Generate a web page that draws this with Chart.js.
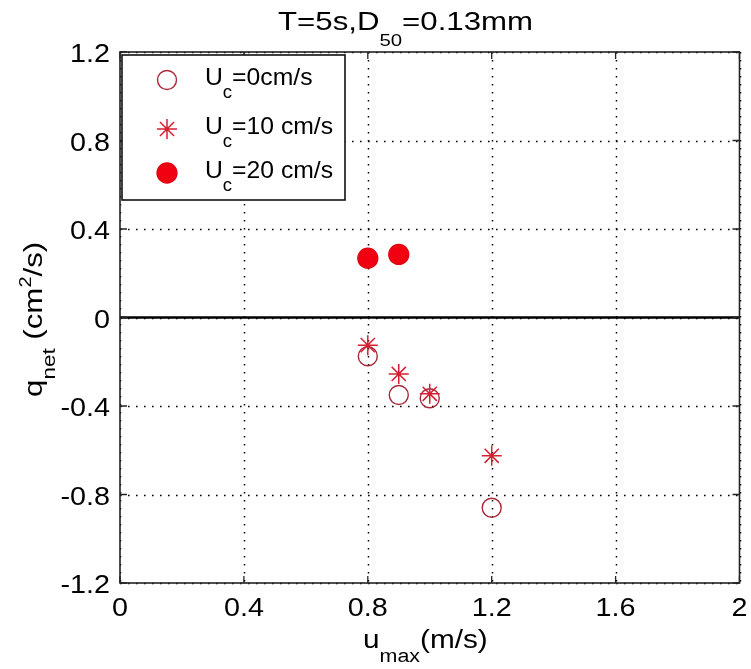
<!DOCTYPE html>
<html>
<head>
<meta charset="utf-8">
<script src="https://cdn.jsdelivr.net/npm/chart.js@4/dist/chart.umd.min.js"></script>
<style>
  html, body { margin: 0; padding: 0; background: #fff; }
  canvas { display: block; }
</style>
</head>
<body>
<canvas id="c" width="751" height="669"></canvas>
<script>
// data
const uMax0 = [0.8, 0.9, 1.0, 1.2];
const qNet0 = [-0.175, -0.35, -0.365, -0.86];
const uMax10 = [0.8, 0.9, 1.0, 1.2];
const qNet10 = [-0.125, -0.255, -0.345, -0.625];
const uMax20 = [0.8, 0.9];
const qNet20 = [0.268, 0.285];

const xTicks = [0, 0.4, 0.8, 1.2, 1.6, 2];
const xTickLabels = ["0", "0.4", "0.8", "1.2", "1.6", "2"];
const yTicks = [-1.2, -0.8, -0.4, 0, 0.4, 0.8, 1.2];
const yTickLabels = ["-1.2", "-0.8", "-0.4", "0", "0.4", "0.8", "1.2"];

// legend: U + subscript c + rest
const legendRest = ["=0cm/s", "=10 cm/s", "=20 cm/s"];

const FONT = '"Liberation Sans", Arial, sans-serif';

// draws a run of text pieces (for sub/superscripts), stretched by sx
function richText(ctx, runs, x, y, align, sx, rot) {
  let total = 0;
  const widths = runs.map(r => {
    ctx.font = r.size + "px " + FONT;
    const w = ctx.measureText(r.t).width;
    total += w;
    return w;
  });
  ctx.save();
  ctx.translate(x, y);
  if (rot) ctx.rotate(rot);
  ctx.scale(sx, 1);
  ctx.fillStyle = "#000";
  ctx.textBaseline = "alphabetic";
  ctx.textAlign = "left";
  let cx = align === "center" ? -total / 2 : align === "right" ? -total : 0;
  runs.forEach((r, i) => {
    ctx.font = r.size + "px " + FONT;
    ctx.fillText(r.t, cx, r.dy || 0);
    cx += widths[i];
  });
  ctx.restore();
}

const styles = [
  { pointStyle: "circle", fill: "rgba(0,0,0,0)", stroke: "#a82838", r: 9.5, w: 1.4 },
  { pointStyle: "star", fill: "#d42030", stroke: "#d42030", r: 10, w: 1.5 },
  { pointStyle: "circle", fill: "#f00010", stroke: "#e00010", r: 10, w: 1.3 }
];

const framePlugin = {
  id: "frame",
  beforeDatasetsDraw(chart) {
    const { ctx, chartArea: a, scales: { x, y } } = chart;
    ctx.save();
    // dotted grid
    ctx.strokeStyle = "#000";
    ctx.lineWidth = 1.5;
    ctx.setLineDash([1.6, 6.4]);
    xTicks.forEach(v => {
      const px = Math.round(x.getPixelForValue(v)) + 0.5;
      ctx.beginPath(); ctx.moveTo(px, a.top); ctx.lineTo(px, a.bottom); ctx.stroke();
    });
    yTicks.forEach(v => {
      const py = Math.round(y.getPixelForValue(v)) + 0.5;
      ctx.beginPath(); ctx.moveTo(a.left, py); ctx.lineTo(a.right, py); ctx.stroke();
    });
    ctx.setLineDash([]);
    // zero line
    const zy = y.getPixelForValue(0);
    ctx.lineWidth = 2.5;
    ctx.strokeStyle = "#000";
    ctx.beginPath(); ctx.moveTo(a.left, zy); ctx.lineTo(a.right, zy); ctx.stroke();
    // box
    ctx.lineWidth = 1.6;
    ctx.strokeStyle = "#222";
    ctx.strokeRect(a.left, a.top, a.right - a.left, a.bottom - a.top);
    // inward ticks
    const tl = 7;
    ctx.lineWidth = 1.3;
    xTicks.forEach(v => {
      const px = x.getPixelForValue(v);
      ctx.beginPath();
      ctx.moveTo(px, a.bottom); ctx.lineTo(px, a.bottom - tl);
      ctx.moveTo(px, a.top); ctx.lineTo(px, a.top + tl);
      ctx.stroke();
    });
    yTicks.forEach(v => {
      const py = y.getPixelForValue(v);
      ctx.beginPath();
      ctx.moveTo(a.left, py); ctx.lineTo(a.left + tl, py);
      ctx.moveTo(a.right, py); ctx.lineTo(a.right - tl, py);
      ctx.stroke();
    });
    ctx.restore();
  },
  afterDatasetsDraw(chart) {
    const { ctx, chartArea: a, scales: { x, y } } = chart;
    // tick labels
    xTicks.forEach((v, i) => {
      richText(ctx, [{ t: xTickLabels[i], size: 25 }], x.getPixelForValue(v), a.bottom + 33, "center", 1.15);
    });
    yTicks.forEach((v, i) => {
      richText(ctx, [{ t: yTickLabels[i], size: 25 }], a.left - 10, y.getPixelForValue(v) + 10, "right", 1.15);
    });
    // title
    richText(ctx, [
      { t: "T=5s,D", size: 26 },
      { t: "50", size: 17, dy: 16 },
      { t: "=0.13mm", size: 26 }
    ], 278, 30, "left", 1.2);
    // x label
    richText(ctx, [
      { t: "u", size: 25 },
      { t: "max", size: 18, dy: 14 },
      { t: "(m/s)", size: 25 }
    ], 363, 648, "left", 1.19);
    // y label
    richText(ctx, [
      { t: "q", size: 25 },
      { t: "net", size: 18, dy: 13 },
      { t: " (cm", size: 25 },
      { t: "2", size: 16, dy: -11 },
      { t: "/s)", size: 25 }
    ], 42, 397, "left", 1.25, -Math.PI / 2);

    // legend
    ctx.save();
    ctx.fillStyle = "#fff";
    ctx.fillRect(122, 55, 223, 145);
    ctx.lineWidth = 1.6;
    ctx.strokeStyle = "#111";
    ctx.strokeRect(122, 55, 223, 145);
    const rows = [80, 129, 173];
    rows.forEach((ry, i) => {
      const s = styles[i];
      ctx.fillStyle = s.fill;
      ctx.strokeStyle = s.stroke;
      ctx.lineWidth = s.w;
      Chart.helpers.drawPoint(ctx, { pointStyle: s.pointStyle, radius: s.r, rotation: 0, borderWidth: s.w }, 167, ry);
      richText(ctx, [
        { t: "U", size: 24 },
        { t: "c", size: 18, dy: 13 },
        { t: legendRest[i], size: 24 }
      ], 205, ry + 5, "left", 1.03);
    });
    ctx.restore();
  }
};

function pts(xs, ys) {
  return xs.map((v, i) => ({ x: v, y: ys[i] }));
}

new Chart(document.getElementById("c"), {
  type: "scatter",
  data: {
    datasets: [
      { data: pts(uMax0, qNet0), order: 2 },
      { data: pts(uMax10, qNet10), order: 1 },
      { data: pts(uMax20, qNet20), order: 0 }
    ].map((d, i) => Object.assign(d, {
      pointStyle: styles[i].pointStyle,
      backgroundColor: styles[i].fill,
      borderColor: styles[i].stroke,
      pointRadius: styles[i].r,
      pointHoverRadius: styles[i].r,
      borderWidth: styles[i].w,
      showLine: false
    }))
  },
  options: {
    responsive: false,
    devicePixelRatio: 1,
    animation: false,
    layout: { padding: { left: 120, top: 52, right: 9, bottom: 86 } },
    plugins: { legend: { display: false }, title: { display: false }, tooltip: { enabled: false } },
    scales: {
      x: {
        type: "linear", min: 0, max: 2,
        ticks: { display: false },
        grid: { display: false },
        border: { display: false },
        afterBuildTicks(s) { s.ticks = xTicks.map(v => ({ value: v })); },
        afterFit(s) { s.height = 0; }
      },
      y: {
        type: "linear", min: -1.2, max: 1.2,
        ticks: { display: false },
        grid: { display: false },
        border: { display: false },
        afterBuildTicks(s) { s.ticks = yTicks.map(v => ({ value: v })); },
        afterFit(s) { s.width = 0; }
      }
    }
  },
  plugins: [framePlugin]
});
</script>
</body>
</html>
